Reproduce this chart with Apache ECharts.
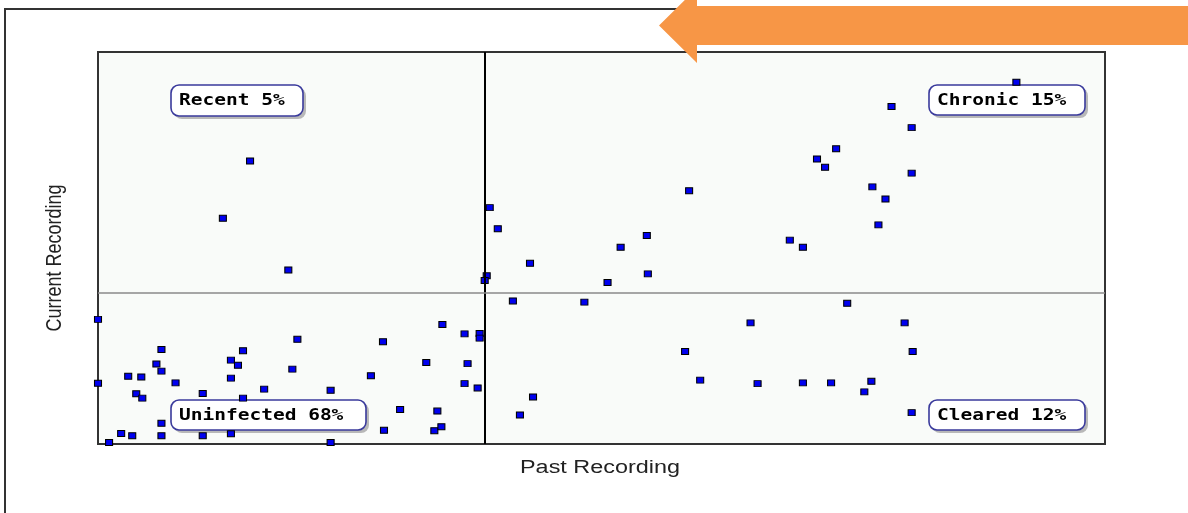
<!DOCTYPE html>
<html>
<head>
<meta charset="utf-8">
<script src="https://cdn.jsdelivr.net/npm/echarts@6/dist/echarts.min.js"></script>
<style>
html,body{margin:0;padding:0;background:#fff;}
#chart{width:1188px;height:513px;}
</style>
</head>
<body>
<div id="chart"></div>
<script>
// Past recording (x) and current recording (y), relative units 0-100
const pastRecording = [
  15.1, 12.4, 18.9,
  91.2, 78.8, 80.8, 73.3, 71.4, 72.2, 80.8, 76.9, 78.2, 58.7, 38.9, 39.7, 77.5, 54.5, 68.7, 51.9, 70.0, 42.9, 54.6, 50.6, 38.6, 38.4,
  41.2, 48.3, 74.4, 64.8, 80.1, 58.3, 80.9, 59.8, 65.5, 70.0, 72.8, 76.8, 76.1, 43.2, 41.9, 80.8,
  0.0, 0.0, 34.2, 36.4, 37.9, 37.9, 19.8, 28.3, 6.3, 14.4, 5.8, 13.2, 13.9, 32.6, 36.7, 6.3, 19.3, 3.0, 4.3, 13.2, 27.1, 7.7, 36.4, 37.7, 16.5, 23.1, 3.8, 4.4, 10.4, 14.4, 30.0, 33.7, 6.3, 28.4, 33.4, 34.1, 2.3, 3.4, 6.3, 10.4, 13.2, 23.1, 1.1
];
const currentRecording = [
  72.2, 57.6, 44.4,
  92.3, 86.1, 80.7, 75.3, 72.7, 70.6, 69.1, 65.6, 62.5, 64.6, 60.3, 54.9, 55.9, 53.2, 52.0, 50.2, 50.2, 46.1, 43.4, 41.2, 42.9, 41.7,
  36.5, 36.2, 35.9, 30.9, 30.9, 23.6, 23.6, 16.3, 15.4, 15.6, 15.6, 16.0, 13.3, 12.0, 7.4, 8.0,
  31.8, 15.5, 30.5, 28.1, 28.2, 27.0, 26.7, 26.1, 24.1, 23.8, 20.4, 21.4, 20.1, 20.8, 20.5, 18.6, 19.1, 17.3, 17.1, 16.8, 17.4, 15.6, 15.4, 14.3, 14.0, 13.7, 12.8, 11.7, 12.9, 11.7, 8.8, 8.4, 5.3, 3.5, 3.4, 4.4, 2.7, 2.1, 2.1, 2.1, 2.6, 0.4, 0.4
];
const pastThreshold = 38.43;
const currentThreshold = 38.5;
const quadrantNames = ['Recent 5%', 'Chronic 15%', 'Uninfected 68%', 'Cleared 12%'];
const xAxisTitle = 'Past Recording';
const yAxisTitle = 'Current Recording';

const points = pastRecording.map((x, i) => [x, currentRecording[i]]);

// annotation box layout (pixels)
const boxLayout = [
  {x: 171, y: 85, w: 132, h: 31},
  {x: 929, y: 85, w: 156, h: 30},
  {x: 171, y: 400, w: 195, h: 30},
  {x: 929, y: 400, w: 156, h: 30}
];

function makeBox(name, b) {
  return {
    type: 'group', x: b.x, y: b.y, z: 10,
    children: [
      {type: 'rect', x: 3, y: 3, shape: {width: b.w, height: b.h, r: 8}, style: {fill: '#b8b8b8'}},
      {type: 'rect', shape: {width: b.w, height: b.h, r: 8}, style: {fill: '#ffffff', stroke: '#3a3a9c', lineWidth: 1.6}},
      {type: 'text', x: 8, y: b.h / 2 + 1, scaleX: 1.3,
        style: {text: name, font: 'bold 15px "DejaVu Sans Mono"', fill: '#000', verticalAlign: 'middle', align: 'left'}}
    ]
  };
}

const chart = echarts.init(document.getElementById('chart'), null, {renderer: 'canvas'});
chart.setOption({
  animation: false,
  backgroundColor: '#ffffff',
  grid: {left: 98, top: 52, width: 1007, height: 392, show: true, backgroundColor: '#f9fbf9', borderColor: '#333', borderWidth: 2},
  xAxis: {type: 'value', min: 0, max: 100, axisLine: {show: false}, axisTick: {show: false}, axisLabel: {show: false}, splitLine: {show: false}},
  yAxis: {type: 'value', min: 0, max: 100, axisLine: {show: false}, axisTick: {show: false}, axisLabel: {show: false}, splitLine: {show: false}},
  series: [{
    type: 'scatter',
    data: points,
    clip: true,
    symbol: 'rect',
    symbolSize: [7, 6],
    itemStyle: {color: '#0000f0', borderColor: '#000', borderWidth: 1, opacity: 1},
    z: 3,
    markLine: {
      silent: true,
      symbol: 'none',
      label: {show: false},
      data: [
        {xAxis: pastThreshold, lineStyle: {color: '#000', width: 2, type: 'solid'}},
        {yAxis: currentThreshold, lineStyle: {color: '#8a8a8a', width: 1.5, type: 'solid'}}
      ]
    }
  }],
  graphic: [
    {type: 'rect', z: 1, shape: {x: 5, y: 9, width: 1400, height: 700}, style: {fill: null, stroke: '#333', lineWidth: 2}},
    {type: 'polygon', z: 20, shape: {points: [[659, 25.5], [697, -12], [697, 6], [1190, 6], [1190, 45], [697, 45], [697, 63]]}, style: {fill: '#f79646'}},
    {type: 'text', x: 600, y: 468, scaleX: 1.3, z: 5,
      style: {text: xAxisTitle, font: '18px "Liberation Sans"', fill: '#222', align: 'center', verticalAlign: 'middle'}},
    {type: 'text', x: 55, y: 258, rotation: Math.PI / 2, scaleY: 1.25, z: 5,
      style: {text: yAxisTitle, font: '18px "Liberation Sans"', fill: '#222', align: 'center', verticalAlign: 'middle'}}
  ].concat(quadrantNames.map((n, i) => makeBox(n, boxLayout[i])))
});
</script>
</body>
</html>
